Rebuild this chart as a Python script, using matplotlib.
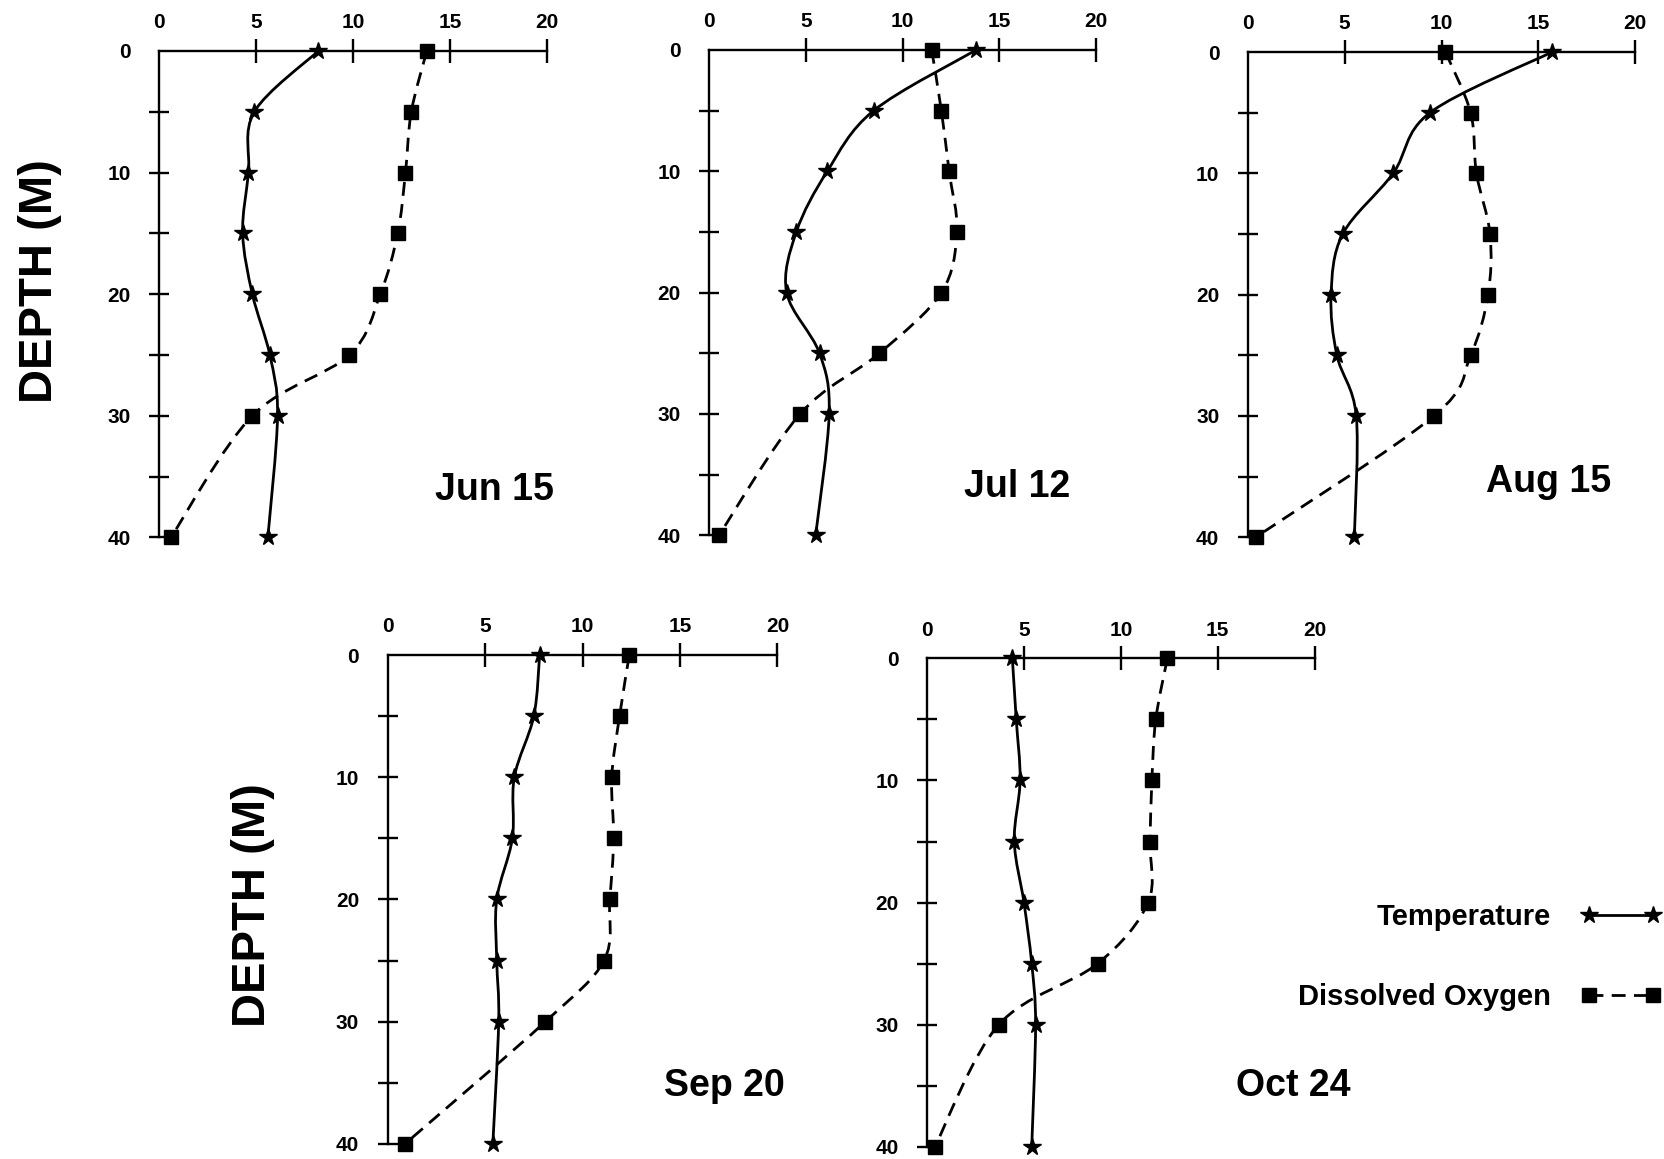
import numpy as np
import matplotlib
matplotlib.use("Agg")
import matplotlib.pyplot as plt
from matplotlib.path import Path
from matplotlib.patches import PathPatch
from matplotlib.lines import Line2D

plt.rcParams['font.family'] = ['Liberation Sans', 'DejaVu Sans']
plt.rcParams['font.weight'] = 'bold'

# sampling depths (m) and profiles
depths = [0, 5, 10, 15, 20, 25, 30, 40]
dates = ['Jun 15', 'Jul 12', 'Aug 15', 'Sep 20', 'Oct 24']

temp_jun = [8.2, 4.9, 4.6, 4.3, 4.8, 5.7, 6.1, 5.6]
oxy_jun = [13.8, 13.0, 12.7, 12.3, 11.4, 9.8, 4.8, 0.6]

temp_jul = [13.8, 8.5, 6.1, 4.5, 4.0, 5.7, 6.2, 5.5]
oxy_jul = [11.5, 12.0, 12.4, 12.8, 12.0, 8.8, 4.7, 0.5]

temp_aug = [15.7, 9.4, 7.5, 4.9, 4.3, 4.6, 5.6, 5.5]
oxy_aug = [10.2, 11.5, 11.8, 12.5, 12.4, 11.5, 9.6, 0.4]

temp_sep = [7.8, 7.5, 6.5, 6.4, 5.6, 5.6, 5.7, 5.4]
oxy_sep = [12.4, 11.9, 11.5, 11.6, 11.4, 11.1, 8.1, 0.9]

temp_oct = [4.4, 4.6, 4.8, 4.5, 5.0, 5.4, 5.6, 5.4]
oxy_oct = [12.4, 11.8, 11.6, 11.5, 11.4, 8.8, 3.7, 0.4]

x_ticks = [0, 5, 10, 15, 20]
depth_ticks = [0, 5, 10, 15, 20, 25, 30, 35, 40]

temps = [temp_jun, temp_jul, temp_aug, temp_sep, temp_oct]
oxys = [oxy_jun, oxy_jul, oxy_aug, oxy_sep, oxy_oct]

# axes boxes [left, bottom, width, height] in figure fraction
boxes = [
    [0.0957, 0.5364, 0.2328, 0.4196],
    [0.4260, 0.5382, 0.2323, 0.4187],
    [0.7494, 0.5364, 0.2328, 0.4187],
    [0.2328, 0.0132, 0.2341, 0.4215],
    [0.5568, 0.0105, 0.2328, 0.4215],
]
# date label centres in data coords (value, depth)
label_pos = [(17.3, 36.1), (15.9, 36.0), (15.5, 35.4), (17.3, 35.3), (18.9, 35.0)]

DASH = (0, (5.0, 3.0))
LW = 2.0


def smooth_path(xs, ys):
    # catmull-rom through the points, drawn as cubic bezier segments
    pts = np.column_stack([xs, ys]).astype(float)
    ext = np.vstack([pts[0], pts, pts[-1]])
    verts = [pts[0]]
    codes = [Path.MOVETO]
    for i in range(1, len(ext) - 2):
        p0, p1, p2, p3 = ext[i - 1], ext[i], ext[i + 1], ext[i + 2]
        verts += [p1 + (p2 - p0) / 6, p2 - (p3 - p1) / 6, p2]
        codes += [Path.CURVE4] * 3
    return Path(verts, codes)


def style_axes(ax):
    ax.set_xlim(0, 20)
    ax.set_ylim(40, 0)
    ax.patch.set_visible(False)
    for s in ['right', 'bottom']:
        ax.spines[s].set_visible(False)
    for s in ['left', 'top']:
        ax.spines[s].set_linewidth(1.7)
    ax.xaxis.tick_top()
    ax.set_xticks(x_ticks)
    ax.set_yticks(depth_ticks)
    ax.set_yticklabels([str(d) if d % 10 == 0 else '' for d in depth_ticks])
    ax.tick_params(axis='x', direction='inout', length=17, width=1.7, pad=5, labelsize=15)
    ax.tick_params(axis='y', direction='inout', length=15, width=1.7, pad=13, labelsize=15)
    ax.xaxis.get_major_ticks()[0].tick2line.set_visible(False)
    ax.yaxis.get_major_ticks()[0].tick1line.set_visible(False)


fig = plt.figure(figsize=(16.65, 11.59), dpi=100)

for box, date, t, o, lp in zip(boxes, dates, temps, oxys, label_pos):
    ax = fig.add_axes(box)
    style_axes(ax)
    ax.add_patch(PathPatch(smooth_path(t, depths), fill=False, color='black',
                           lw=LW, clip_on=False))
    ax.add_patch(PathPatch(smooth_path(o, depths), fill=False, color='black',
                           lw=LW, ls=DASH, clip_on=False))
    ax.plot(t, depths, ls='none', marker='*', ms=13, color='black', clip_on=False, zorder=3)
    ax.plot(o, depths, ls='none', marker='s', ms=10, color='black', clip_on=False, zorder=3)
    ax.text(lp[0], lp[1], date, fontsize=27, ha='center', va='center')

fig.text(40 / 1665, 1 - 281 / 1159, 'DEPTH (M)', rotation=90, fontsize=34,
         ha='center', va='center')
fig.text(253 / 1665, 1 - 905 / 1159, 'DEPTH (M)', rotation=90, fontsize=34,
         ha='center', va='center')

handles = [
    Line2D([], [], color='black', lw=LW, marker='*', ms=13),
    Line2D([], [], color='black', lw=LW, ls=DASH, marker='s', ms=10),
]
fig.legend(handles, ['Temperature', 'Dissolved Oxygen'], loc='center right',
           bbox_to_anchor=(0.998, 0.1743), frameon=False, markerfirst=False,
           numpoints=2, handlelength=2.8, handletextpad=1.0, labelspacing=1.8,
           fontsize=21, borderpad=0, borderaxespad=0)

fig.savefig('out.png', dpi=100, facecolor='white')
